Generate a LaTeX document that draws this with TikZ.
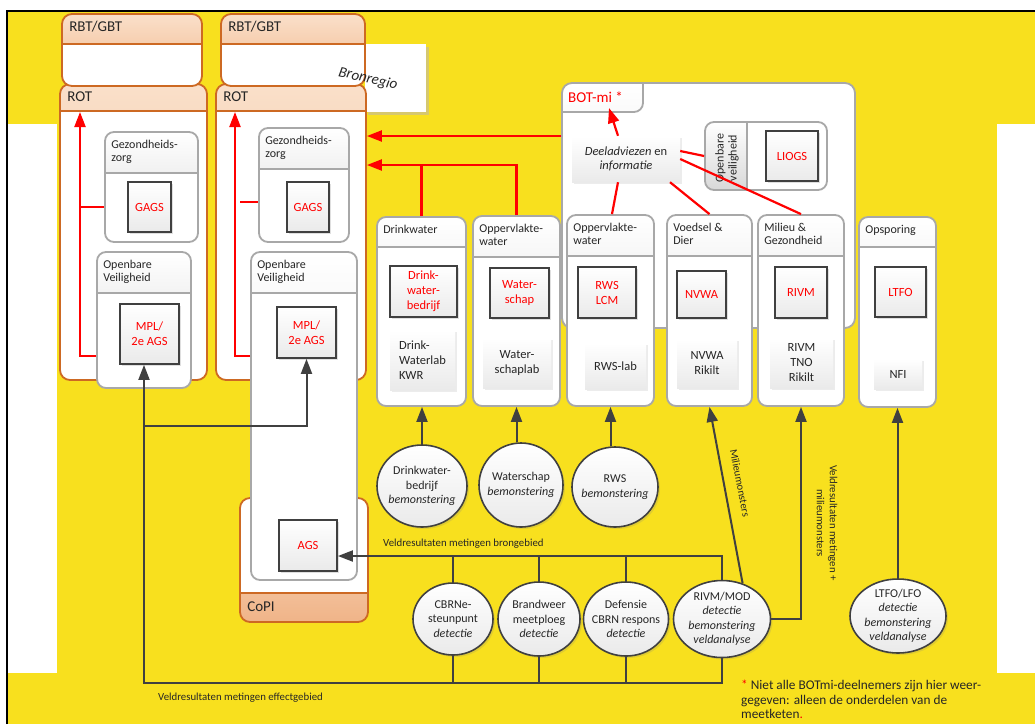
\documentclass[tikz,border=0pt]{standalone}
\usepackage{fontspec}
\setmainfont{Carlito}
\usetikzlibrary{arrows.meta, shapes.geometric, shadows}
\definecolor{bgyellow}{RGB}{248, 224, 30}
\definecolor{bronshade}{RGB}{214, 200, 110}
\definecolor{rimorange}{RGB}{205, 105, 35}
\definecolor{lightpeach}{RGB}{250, 224, 202}
\definecolor{headpeach}{RGB}{240, 180, 136}
\definecolor{rimgray}{RGB}{168, 168, 168}
\definecolor{headgray}{RGB}{216, 216, 216}
\definecolor{boxfill}{RGB}{234, 234, 234}
\definecolor{linegray}{RGB}{64, 64, 64}
\tikzset{
    every node/.style={inner sep=0pt},
    panel/.style={draw=rimgray, line width=1.8pt, fill=white, rounded corners=9pt,
        path picture={
            \fill[sharp corners, top color=white, bottom color=headgray]
                (path picture bounding box.north west) rectangle
                ([yshift=-#1]path picture bounding box.north east);
            \draw[sharp corners, rimgray, line width=1.8pt]
                ([yshift=-#1]path picture bounding box.north west) --
                ([yshift=-#1]path picture bounding box.north east);
        }},
    sidepanel/.style={draw=rimgray, line width=1.8pt, fill=white, rounded corners=9pt,
        path picture={
            \fill[sharp corners, top color=white, bottom color=headgray]
                (path picture bounding box.north west) rectangle
                ([xshift=#1]path picture bounding box.south west);
            \draw[sharp corners, rimgray, line width=1.8pt]
                ([xshift=#1]path picture bounding box.north west) --
                ([xshift=#1]path picture bounding box.south west);
        }},
    rotpanel/.style={draw=rimorange, line width=1.8pt, fill=white, rounded corners=10pt,
        path picture={
            \fill[sharp corners, top color=lightpeach, bottom color=headpeach]
                (path picture bounding box.north west) rectangle
                ([yshift=-#1]path picture bounding box.north east);
            \draw[sharp corners, rimorange, line width=1.8pt]
                ([yshift=-#1]path picture bounding box.north west) --
                ([yshift=-#1]path picture bounding box.north east);
        }},
    copipanel/.style={draw=rimorange, line width=1.8pt, fill=white, rounded corners=10pt,
        path picture={
            \fill[sharp corners, top color=lightpeach, bottom color=headpeach]
                (path picture bounding box.south west) rectangle
                ([yshift=#1]path picture bounding box.south east);
            \draw[sharp corners, rimorange, line width=1.8pt]
                ([yshift=#1]path picture bounding box.south west) --
                ([yshift=#1]path picture bounding box.south east);
        }},
    botpanel/.style={draw=rimgray, line width=1.8pt, fill=white, rounded corners=10pt,
        path picture={
            \fill[sharp corners, top color=white, bottom color=headgray]
                (path picture bounding box.north west) --
                ([xshift=81pt]path picture bounding box.north west)
                [rounded corners=9pt] --
                ([xshift=81pt, yshift=-29pt]path picture bounding box.north west)
                [sharp corners] --
                ([yshift=-29pt]path picture bounding box.north west) -- cycle;
            \draw[rimgray, line width=1.8pt, rounded corners=9pt]
                ([yshift=-29pt]path picture bounding box.north west) -|
                ([xshift=81pt]path picture bounding box.north west);
        }},
    hdr/.style={anchor=north west, xshift=7pt, yshift=-9pt, align=left,
        font=\fontsize{12}{13}\selectfont, text=black!85},
    bighdr/.style={anchor=north west, xshift=8pt, yshift=-8pt,
        font=\fontsize{15}{18}\selectfont, text=black!85},
    unit/.style={draw=linegray, line width=1.8pt, top color=white,
        bottom color=boxfill, text=red, align=center,
        font=\fontsize{12.5}{15}\selectfont,
        drop shadow={opacity=.25, shadow xshift=2pt, shadow yshift=-2pt}},
    lab/.style={top color=white, bottom color=boxfill, align=center,
        font=\fontsize{12.5}{15}\selectfont, text=black!85,
        drop shadow={opacity=.15, shadow xshift=2pt, shadow yshift=-2pt}},
    field/.style={ellipse, draw=linegray, line width=1.6pt, top color=white,
        bottom color=boxfill,
        drop shadow={opacity=.2, shadow xshift=2pt, shadow yshift=-2pt}},
    fieldtext/.style={align=center, font=\fontsize{12}{14.5}\selectfont,
        text=black!85},
    darrow/.style={draw=linegray, line width=2pt,
        -{Triangle[length=15pt, width=11pt]}},
    dline/.style={draw=linegray, line width=2pt},
    rarrow/.style={draw=red, line width=2.2pt,
        -{Triangle[length=15pt, width=11pt]}},
    rline/.style={draw=red, line width=2.2pt},
    small/.style={font=\fontsize{10.8}{13}\selectfont, text=black!85},
}

\begin{document}
\begin{tikzpicture}[x=1pt, y=-1pt]
    \useasboundingbox (0, 0) rectangle (1035, 724);
    % background
    \fill[white] (0, 0) rectangle (1035, 724);
    \fill[bgyellow] (7, 11) rectangle (1035, 724);
    \fill[white] (8, 124) rectangle (57, 673);
    \fill[white] (997, 124) rectangle (1035, 673);
    \fill[bronshade] (368, 47) rectangle (429, 115);
    \fill[white] (365, 44) rectangle (426, 112);
    \draw[line width=2.5pt] (7, 724) -- (7, 11) -- (1035, 11);

    % left region
    \node[rotpanel=27pt, minimum width=147pt, minimum height=296pt,
        label={[bighdr]north west:ROT}] (leftrot) at (133.5, 232) {};
    \node[rotpanel=30pt, minimum width=140pt, minimum height=72pt,
        label={[bighdr]north west:RBT/GBT}] (leftrbt) at (132, 50) {};
    \node[panel=41pt, minimum width=93pt, minimum height=110pt,
        label={[hdr]north west:{Gezondheids-\\zorg}}] (leftgez) at (151.5, 187) {};
    \node[unit, minimum width=43pt, minimum height=50pt] (leftgags)
        at (149.5, 207) {GAGS};
    \node[panel=41pt, minimum width=94pt, minimum height=136pt,
        label={[hdr]north west:{Openbare\\Veiligheid}}] (leftov) at (144, 320) {};
    \node[unit, minimum width=59pt, minimum height=60pt] (leftmpl)
        at (149.5, 334) {MPL/\\2e AGS};

    % right region
    \node[rotpanel=27pt, minimum width=150pt, minimum height=296pt,
        label={[bighdr]north west:ROT}] (rightrot) at (291, 232) {};
    \node[rotpanel=30pt, minimum width=144pt, minimum height=72pt,
        label={[bighdr]north west:RBT/GBT}] (rightrbt) at (293, 50) {};
    \node[rotate=-13, font=\fontsize{15}{18}\selectfont\itshape, text=black!85]
        (bron) at (368, 79) {Bronregio};
    \node[panel=41pt, minimum width=90pt, minimum height=114pt,
        label={[hdr]north west:{Gezondheids-\\zorg}}] (rightgez) at (304, 185) {};
    \node[unit, minimum width=42pt, minimum height=50pt] (rightgags)
        at (308, 207) {GAGS};
    \node[copipanel=29pt, minimum width=128pt, minimum height=124pt,
        label={[bighdr, anchor=base west, yshift=19pt]south west:CoPI}]
        (copi) at (304, 560) {};
    \node[panel=41pt, minimum width=106pt, minimum height=328pt,
        label={[hdr]north west:{Openbare\\Veiligheid}}] (rightov) at (304, 416) {};
    \node[unit, minimum width=59pt, minimum height=51pt] (rightmpl)
        at (306.5, 332.5) {MPL/\\2e AGS};
    \node[unit, minimum width=58pt, minimum height=51pt] (ags)
        at (308, 545.5) {AGS};

    % water boards
    \node[panel=30pt, minimum width=89pt, minimum height=189pt,
        label={[hdr]north west:Drinkwater}] (drink) at (421.5, 311.5) {};
    \node[unit, minimum width=67pt, minimum height=51pt] (drinkunit)
        at (423.5, 291.5) {Drink-\\water-\\bedrijf};
    \node[lab, align=left, minimum width=65pt, minimum height=60pt] (drinklab)
        at (422.5, 360) {Drink-\\Waterlab\\KWR};
    \node[panel=41pt, minimum width=87pt, minimum height=190pt,
        label={[hdr]north west:{Oppervlakte-\\water}}] (wschap) at (516.5, 311) {};
    \node[unit, minimum width=59pt, minimum height=50pt] (wschapunit)
        at (519.5, 293) {Water-\\schap};
    \node[lab, minimum width=68pt, minimum height=50pt] (wschaplab)
        at (517, 363) {Water-\\schaplab};

    % BOT-mi
    \node[botpanel, minimum width=293pt, minimum height=245pt] (botmi)
        at (708.5, 205.5) {};
    \node[anchor=west, text=red, font=\fontsize{15}{18}\selectfont] (bottab)
        at (568, 97) {BOT-mi *};
    \node[lab, minimum width=108pt, minimum height=46pt,
        font=\fontsize{12.5}{14}\selectfont] (deel)
        at (626, 159) {\textit{Deeladviezen} en\\\textit{informatie}};
    \node[sidepanel=42pt, minimum width=122pt, minimum height=68pt] (openbaar)
        at (766, 156) {};
    \node[rotate=90, align=center, font=\fontsize{12}{13}\selectfont,
        text=black!85] (openbaarhead) at (727, 158) {Openbare\\veiligheid};
    \node[unit, minimum width=52pt, minimum height=50pt] (liogs)
        at (792, 156) {LIOGS};
    \node[panel=41pt, minimum width=87pt, minimum height=191pt,
        label={[hdr]north west:{Oppervlakte-\\water}}] (rws) at (610.5, 310.5) {};
    \node[unit, minimum width=58pt, minimum height=51pt] (rwsunit)
        at (607, 292.5) {RWS\\LCM};
    \node[lab, minimum width=61pt, minimum height=46pt] (rwslab)
        at (615.5, 366) {RWS-lab};
    \node[panel=41pt, minimum width=85pt, minimum height=191pt,
        label={[hdr]north west:{Voedsel \&\\Dier}}] (voedsel) at (709.5, 310.5) {};
    \node[unit, minimum width=49pt, minimum height=47pt] (nvwa)
        at (701.5, 294.5) {NVWA};
    \node[lab, minimum width=60pt, minimum height=49pt] (nvwalab)
        at (707, 363.5) {NVWA\\Rikilt};
    \node[panel=41pt, minimum width=86pt, minimum height=191pt,
        label={[hdr]north west:{Milieu \&\\Gezondheid}}] (milieu) at (801, 310.5) {};
    \node[unit, minimum width=52pt, minimum height=51pt] (rivm)
        at (801, 292.5) {RIVM};
    \node[lab, minimum width=63pt, minimum height=50pt] (rivmlab)
        at (801.5, 363) {RIVM\\TNO\\Rikilt};
    \node[panel=30pt, minimum width=77pt, minimum height=190pt,
        label={[hdr]north west:Opsporing}] (opsporing) at (897.5, 312) {};
    \node[unit, minimum width=51pt, minimum height=50pt] (ltfo)
        at (900.5, 292) {LTFO};
    \node[lab, minimum width=48pt, minimum height=30pt] (nfi)
        at (898, 374) {NFI};

    % field teams
    \node[field, minimum width=90pt, minimum height=82pt,
        label={[fieldtext]center:{Drinkwater-\\bedrijf\\\textit{bemonstering}}}]
        (drinkfield) at (422, 486) {};
    \node[field, minimum width=84pt, minimum height=84pt,
        label={[fieldtext]center:{Waterschap\\\textit{bemonstering}}}]
        (wschapfield) at (521, 485) {};
    \node[field, minimum width=86pt, minimum height=80pt,
        label={[fieldtext]center:{RWS\\\textit{bemonstering}}}]
        (rwsfield) at (615, 487) {};
    \node[field, minimum width=80pt, minimum height=72pt,
        label={[fieldtext]center:{CBRNe-\\steunpunt\\\textit{detectie}}}]
        (cbrnfield) at (453, 619) {};
    \node[field, minimum width=82pt, minimum height=74pt,
        label={[fieldtext]center:{Brandweer\\meetploeg\\\textit{detectie}}}]
        (brandfield) at (539, 619) {};
    \node[field, minimum width=85pt, minimum height=74pt,
        label={[fieldtext]center:{Defensie\\CBRN respons\\\textit{detectie}}}]
        (defensiefield) at (626, 619) {};
    \node[field, minimum width=97pt, minimum height=77pt,
        label={[fieldtext]center:{RIVM/MOD\\\textit{detectie}\\\textit{bemonstering}\\\textit{veldanalyse}}}]
        (rivmfield) at (722, 619) {};
    \node[field, minimum width=96pt, minimum height=74pt,
        label={[fieldtext]center:{LTFO/LFO\\\textit{detectie}\\\textit{bemonstering}\\\textit{veldanalyse}}}]
        (ltfofield) at (898, 616) {};

    % red advice lines
    \coordinate (leftrise) at (80, 356);
    \coordinate (lefttop) at (80, 112);
    \coordinate (rightrise) at (235, 356);
    \coordinate (righttop) at (235, 112);
    \coordinate (rightstub) at (240, 202);
    \coordinate (adviesin) at (0, 136);
    \coordinate (waterin) at (0, 165);
    \coordinate (tabtip) at (609, 108);
    \draw[rarrow] (leftov.west |- leftrise) -- (leftrise) -- (lefttop);
    \draw[rline] (leftrise |- leftgags) -- (leftgez.west |- leftgags);
    \draw[rarrow] (rightov.west |- rightrise) -- (rightrise) -- (righttop);
    \draw[rline] (rightstub) -- (rightstub -| rightgez.west);
    \draw[rarrow] (botmi.west |- adviesin) -- (rightrot.east |- adviesin);
    \draw[rarrow] (wschap.north) |- (rightrot.east |- waterin);
    \draw[rline] (drink.north) -- (drink.north |- waterin);
    \draw[rarrow] ([xshift=-8pt]deel.north) -- (tabtip);
    \draw[rline] ([xshift=-8pt]deel.south) -- ([xshift=1.5pt]rws.north);
    \draw[rline] ([xshift=44pt]deel.south) -- (voedsel.north);
    \draw[rline] ([yshift=8pt]deel.east) -- (openbaar.west);
    \draw[rline] (deel.east) -- (milieu.north);

    % measurement chain
    \coordinate (brong) at (722, 556);
    \coordinate (effect) at (144, 683);
    \coordinate (mplsplit) at (144, 426);
    \draw[darrow] (drinkfield.north) -- (drinkfield.north |- drink.south);
    \draw[darrow] (wschapfield.north -| wschap.south) -- (wschap.south);
    \draw[darrow] (rwsfield.north -| rws.south) -- (rws.south);
    \draw[darrow] (ltfofield.north -| opsporing.south) -- (opsporing.south);
    \draw[darrow] (rivmfield.60) -- (voedsel.south);
    \draw[darrow] (rivmfield.east) -| (milieu.south);
    \draw[darrow] (rivmfield.north) |- ([yshift=-10.5pt]ags.east);
    \foreach \f in {cbrnfield, brandfield, defensiefield} {
        \draw[dline] (\f.north) -- (\f.north |- brong);
        \draw[dline] (\f.south) -- (\f.south |- effect);
    }
    \draw[darrow] (rivmfield.south) |- (effect) -- (effect |- leftmpl.south);
    \draw[darrow] (mplsplit) -| (rightmpl.south);

    % labels
    \node[small, anchor=base west] (bronlabel) at (383, 546)
        {Veldresultaten metingen brongebied};
    \node[small, anchor=base west] (effectlabel) at (158, 700)
        {Veldresultaten metingen effectgebied};
    \node[small, rotate=-79] (monsterlabel) at (740, 483) {Milieumonsters};
    \node[small, rotate=-90, align=center] (veldlabel) at (827, 523)
        {Veldresultaten metingen +\\milieumonsters};
    \node[anchor=north west, align=left, font=\fontsize{13.3}{14.5}\selectfont,
        text=black!85] (note) at (741, 680)
        {\textcolor{red}{*} Niet alle BOTmi-deelnemers zijn hier weer-\\
        gegeven: alleen de onderdelen van de\\meetketen\textcolor{red}{.}};
\end{tikzpicture}
\end{document}
